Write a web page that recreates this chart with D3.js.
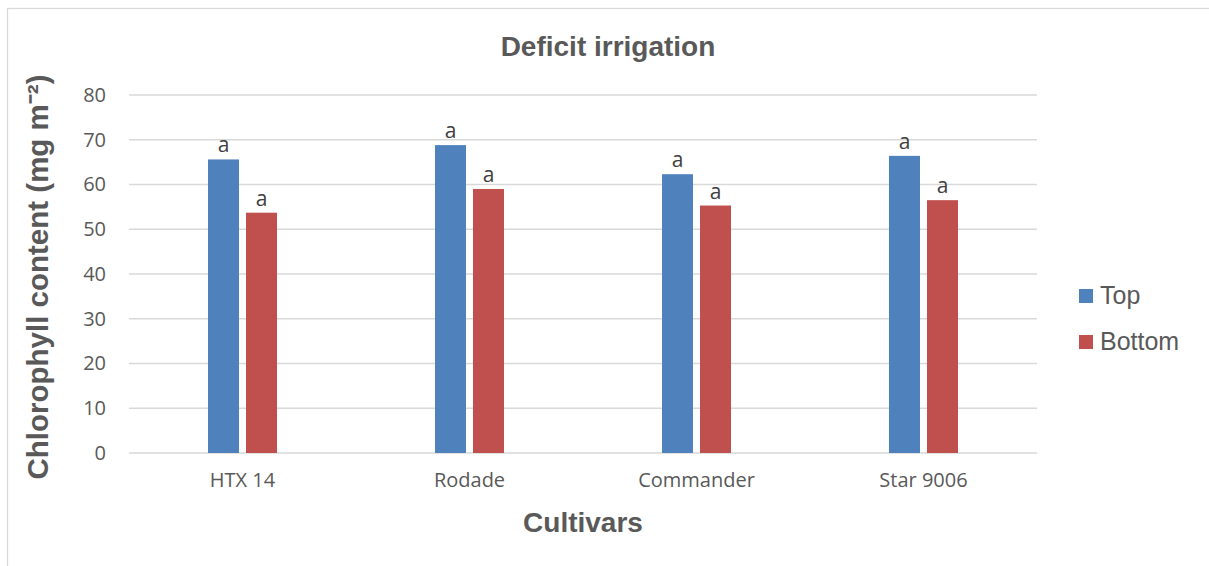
<!DOCTYPE html>
<html>
<head>
<meta charset="utf-8">
<script src="https://cdn.jsdelivr.net/npm/d3@7"></script>
<style>
  html, body { margin: 0; padding: 0; background: #fff; }
  svg { display: block; }
</style>
</head>
<body>
<svg id="chart" width="1209" height="566"></svg>
<script>
// Chlorophyll content under deficit irrigation, by cultivar and leaf position
const cultivars = ["HTX 14", "Rodade", "Commander", "Star 9006"];
const seriesNames = ["Top", "Bottom"];
const topValues = [65.6, 68.8, 62.3, 66.4];
const bottomValues = [53.7, 59.0, 55.3, 56.5];
const significance = [["a", "a"], ["a", "a"], ["a", "a"], ["a", "a"]];
const yTicks = [0, 10, 20, 30, 40, 50, 60, 70, 80];
const seriesColors = ["#4f81bd", "#c0504d"];

const svg = d3.select("#chart");
const textColor = "#595959";
const tickFont = "'Open Sans', 'DejaVu Sans', sans-serif";
const titleFont = "'Liberation Sans', Arial, sans-serif";

const plot = { left: 129, right: 1037, top: 95, bottom: 453 };

// Outer chart frame (left and top edges fall inside the view)
svg.append("rect")
  .attr("x", 7.5).attr("y", 8.5)
  .attr("width", 1300).attr("height", 700)
  .attr("fill", "none").attr("stroke", "#d9d9d9").attr("stroke-width", 1.3);

const y = d3.scaleLinear().domain([0, 80]).range([plot.bottom, plot.top]);
const x0 = d3.scaleBand().domain(cultivars)
  .range([plot.left, plot.right])
  .paddingInner(0.696).paddingOuter(0.348);
const x1 = d3.scaleBand().domain(seriesNames)
  .range([0, x0.bandwidth()])
  .paddingInner(0.184);
const color = d3.scaleOrdinal().domain(seriesNames).range(seriesColors);

// Horizontal gridlines
svg.append("g").selectAll("line").data(yTicks).join("line")
  .attr("x1", plot.left).attr("x2", plot.right)
  .attr("y1", d => y(d)).attr("y2", d => y(d))
  .attr("stroke", "#d9d9d9").attr("stroke-width", 1.3);

// Y axis tick labels
const yAxis = svg.append("g")
  .attr("transform", `translate(${plot.left},0)`)
  .call(d3.axisLeft(y).tickValues(yTicks).tickSize(0).tickPadding(23));
yAxis.select(".domain").remove();
yAxis.selectAll("text")
  .attr("fill", textColor)
  .style("font-family", tickFont)
  .style("font-size", "20px");

// X axis tick labels
const xAxis = svg.append("g")
  .attr("transform", `translate(0,${plot.bottom})`)
  .call(d3.axisBottom(x0).tickSize(0).tickPadding(20));
xAxis.select(".domain").remove();
xAxis.selectAll("text")
  .attr("fill", textColor)
  .style("font-family", tickFont)
  .style("font-size", "20px");

// Bars and significance letters
const rows = cultivars.map((c, i) => ({
  cultivar: c,
  values: [
    { key: "Top", value: topValues[i], letter: significance[i][0] },
    { key: "Bottom", value: bottomValues[i], letter: significance[i][1] }
  ]
}));

const groups = svg.append("g").selectAll("g").data(rows).join("g")
  .attr("transform", d => `translate(${x0(d.cultivar)},0)`);

groups.selectAll("rect").data(d => d.values).join("rect")
  .attr("x", d => x1(d.key))
  .attr("width", x1.bandwidth())
  .attr("y", d => y(d.value))
  .attr("height", d => y(0) - y(d.value))
  .attr("fill", d => color(d.key));

groups.selectAll("text").data(d => d.values).join("text")
  .attr("x", d => x1(d.key) + x1.bandwidth() / 2)
  .attr("y", d => y(d.value) - 7)
  .attr("text-anchor", "middle")
  .attr("fill", "#404040")
  .style("font-family", tickFont)
  .style("font-size", "21px")
  .text(d => d.letter);

// Titles
svg.append("text")
  .attr("x", 608).attr("y", 56)
  .attr("text-anchor", "middle")
  .attr("fill", textColor)
  .style("font-family", titleFont).style("font-weight", "bold").style("font-size", "28px")
  .text("Deficit irrigation");

svg.append("text")
  .attr("x", 583).attr("y", 532)
  .attr("text-anchor", "middle")
  .attr("fill", textColor)
  .style("font-family", titleFont).style("font-weight", "bold").style("font-size", "28px")
  .text("Cultivars");

svg.append("text")
  .attr("transform", `translate(48,${(plot.top + plot.bottom) / 2 + 3}) rotate(-90)`)
  .attr("text-anchor", "middle")
  .attr("fill", textColor)
  .style("font-family", titleFont).style("font-weight", "bold").style("font-size", "29.5px")
  .text("Chlorophyll content (mg m⁻²)");

// Legend
const legend = svg.append("g").selectAll("g").data(seriesNames).join("g")
  .attr("transform", (d, i) => `translate(1079,${289 + i * 46})`);
legend.append("rect")
  .attr("width", 14).attr("height", 14)
  .attr("fill", d => color(d));
legend.append("text")
  .attr("x", 21).attr("y", 15)
  .attr("fill", textColor)
  .style("font-family", titleFont).style("font-size", "25px")
  .text(d => d);
</script>
</body>
</html>
